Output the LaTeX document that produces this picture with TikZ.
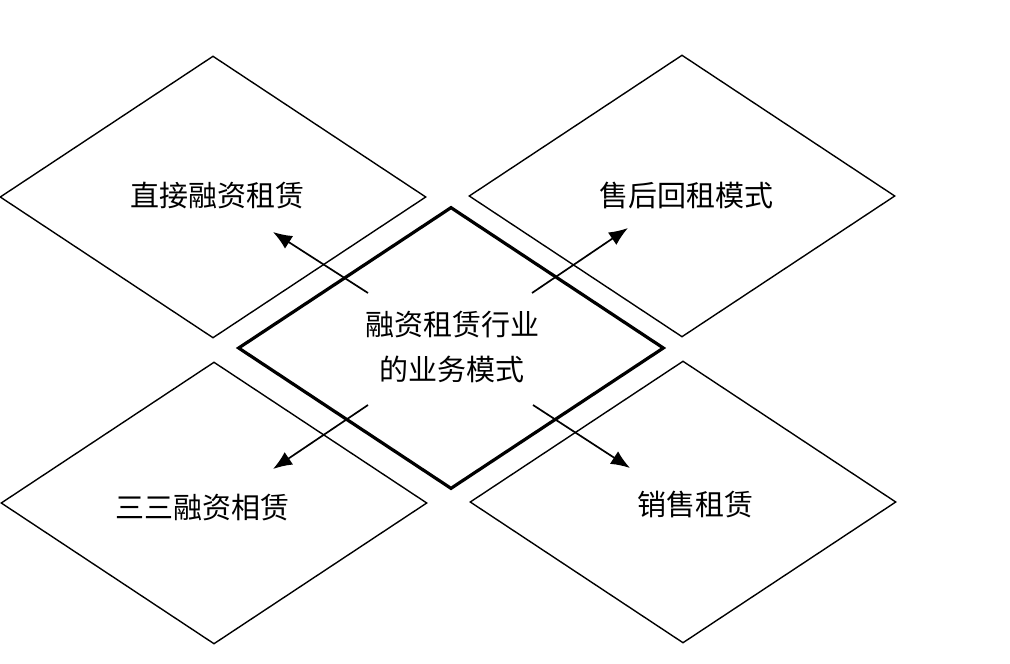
\documentclass[tikz,border=0pt]{standalone}
\usepackage{fontspec}
\setmainfont{Noto Sans CJK SC}
\usetikzlibrary{shapes.geometric}
\usetikzlibrary{arrows.meta}

\begin{document}
\begin{tikzpicture}[x=1pt,y=-1pt]
  \tikzset{mode/.style = {shape=diamond,draw,line width=1.4pt,minimum width=426pt,minimum height=282pt,inner sep=0pt}}
  \tikzset{core/.style = {mode,line width=3.2pt}}
  \tikzset{txt/.style = {font=\fontsize{29}{45}\selectfont,align=center,inner sep=0pt}}
  \tikzset{link/.style = {-{Latex[length=19pt,width=15pt]},line width=1.7pt}}

  \useasboundingbox (0,0) rectangle (1010,664);

	\node[mode] (zj) at (213,197) {};
	\node[mode] (sh) at (682,196) {};
		\node[mode] (ss) at (214,503) {};
		\node[mode] (xs) at (683,502) {};

	\node[core] (c) at (451,348) {};

	\node[txt] (zjt) at (217,196) {直接融资租赁};
	\node[txt] (sht) at (686,195) {售后回租模式};
	\node[txt] (sst) at (202,508) {三三融资相赁};
	\node[txt] (xst) at (695,505) {销售租赁};
	\node[txt] (ct) at (452,347) {融资租赁行业\\的业务模式};

	\coordinate (s1) at ([shift={(-83,-55)}]c.center);
	\coordinate (s2) at ([shift={(81,-55)}]c.center);
	\coordinate (s3) at ([shift={(-83,57)}]c.center);
	\coordinate (s4) at ([shift={(82,57)}]c.center);
	\coordinate (e1) at ([shift={(60,35)}]zj.center);
	\coordinate (e2) at ([shift={(-54,32)}]sh.center);
	\coordinate (e3) at ([shift={(59,-34)}]ss.center);
	\coordinate (e4) at ([shift={(-53,-34)}]xs.center);

       \foreach \from/\to in {s1/e1, s2/e2, s3/e3, s4/e4}
    \draw[link] (\from) -- (\to);
\end{tikzpicture}
\end{document}
